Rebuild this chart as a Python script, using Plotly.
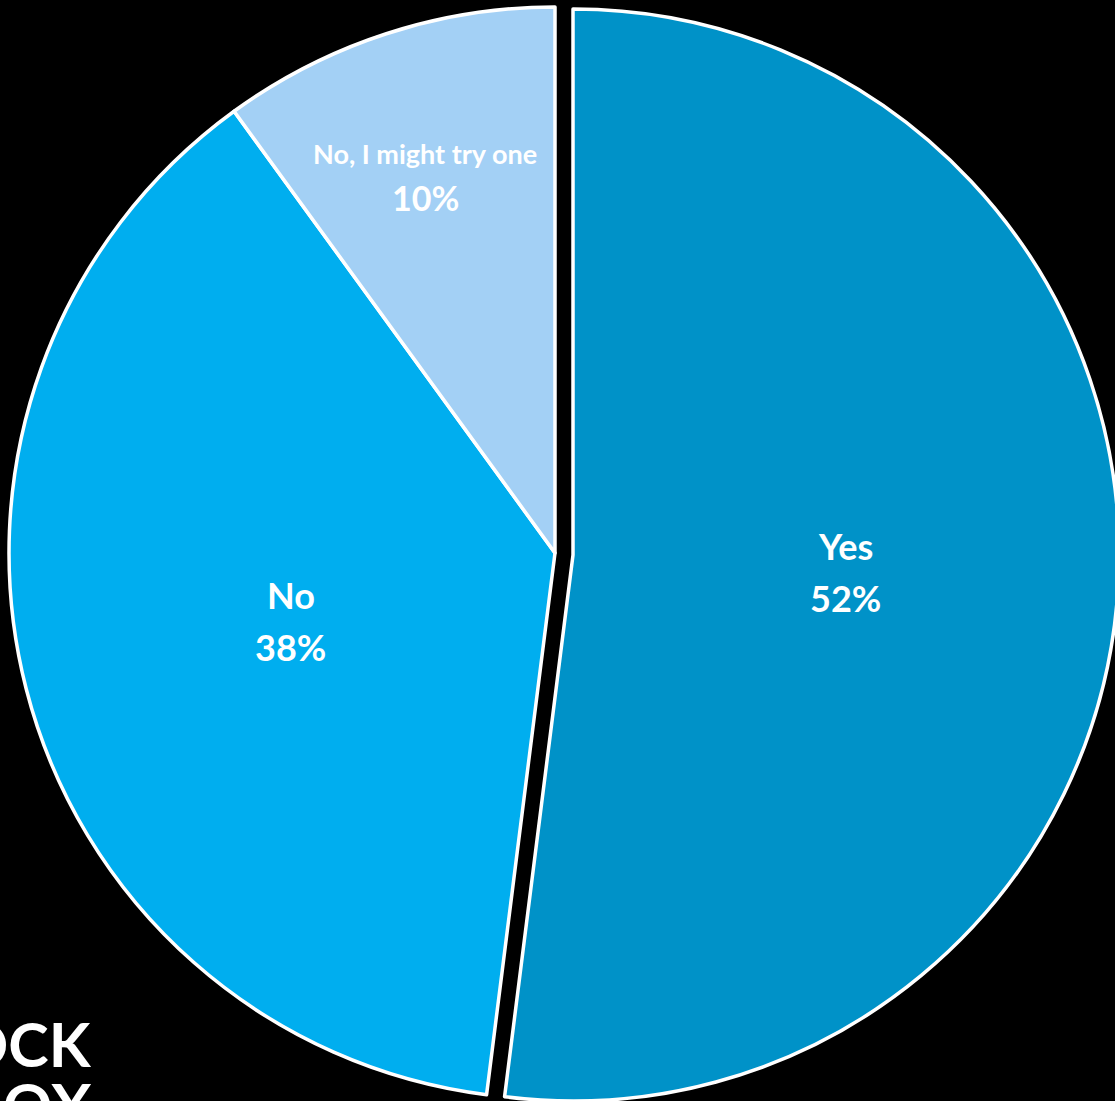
import math
import plotly.graph_objects as go

# Survey answers
labels = ["Yes", "No", "No, I might try one"]
values = [52, 38, 10]
colors = ["#0092C8", "#00AEEF", "#A3D0F5"]

# Logo text lines
logo_lines = ["OCK", "OX"]

W, H = 1125, 1101
BG = "#000000"
TRANSPARENT = "rgba(0,0,0,0)"
LINE_W = 3.5

# pie geometry in pixels: main pie and the pulled-out "Yes" slice
R = 546
main_c = (555, 553)
pulled_c = (573, 555)


def dom(c):
    return dict(x=[(c[0] - R) / W, (c[0] + R) / W],
                y=[1 - (c[1] + R) / H, 1 - (c[1] - R) / H])


pulled = [True, False, False]

fig = go.Figure()
for is_pulled_trace, c in ((False, main_c), (True, pulled_c)):
    show = [p == is_pulled_trace for p in pulled]
    fig.add_trace(go.Pie(
        labels=labels,
        values=values,
        sort=False,
        direction="clockwise",
        rotation=0,
        domain=dom(c),
        textinfo="none",
        hoverinfo="skip",
        showlegend=False,
        marker=dict(
            colors=[col if s else TRANSPARENT for col, s in zip(colors, show)],
            line=dict(color="white", width=[LINE_W if s else 0 for s in show]),
        ),
    ))

# slice labels placed along each slice's mid-angle
label_sizes = [36, 36, 27]
pct_sizes = [36, 36, 34]
radial_frac = [0.5, 0.5, 0.727]
label_dx = [0, 0, -7]
half_gap = [26, 26, 22]
FONT = "Lato"

annotations = []
total = sum(values)
cum = 0
for i, v in enumerate(values):
    mid = (cum + v / 2) / total
    cum += v
    ang = math.pi / 2 - 2 * math.pi * mid
    cx, cy = pulled_c if pulled[i] else main_c
    px = cx + radial_frac[i] * R * math.cos(ang) + label_dx[i]
    py = cy - radial_frac[i] * R * math.sin(ang)
    pct = f"{round(v / total * 100)}%"
    for txt, size, dy in ((labels[i], label_sizes[i], -half_gap[i]),
                          (pct, pct_sizes[i], half_gap[i])):
        annotations.append(dict(
            x=px / W, y=1 - (py + dy) / H, xref="paper", yref="paper",
            text=txt, showarrow=False, xanchor="center", yanchor="middle",
            font=dict(family=FONT, size=size, color="white", weight="bold"),
        ))

# logo in the lower-left corner, partly running off the page
for txt, ypx in zip(logo_lines, [1043, 1104]):
    annotations.append(dict(
        x=94 / W, y=1 - ypx / H, xref="paper", yref="paper",
        text=txt, showarrow=False, xanchor="right", yanchor="middle",
        font=dict(family=FONT, size=61, color="white", weight="bold"),
    ))

fig.update_layout(
    width=W, height=H,
    margin=dict(l=0, r=0, t=0, b=0),
    paper_bgcolor=BG, plot_bgcolor=BG,
    annotations=annotations,
)

fig.write_html("out.html", post_script="document.body.style.overflow='hidden';document.body.style.margin='0';")
